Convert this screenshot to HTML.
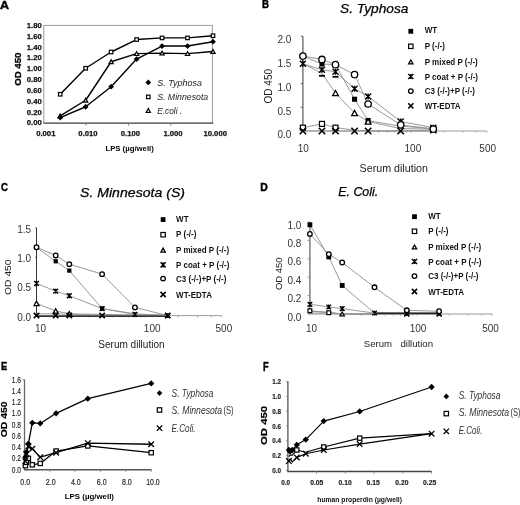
<!DOCTYPE html>
<html><head><meta charset="utf-8"><style>
html,body{margin:0;padding:0;background:#fff;}
svg{display:block;will-change:transform;}
text{font-family:"Liberation Sans", sans-serif;}
</style></head><body>
<svg width="520" height="505" viewBox="0 0 520 505">
<rect width="520" height="505" fill="#fff"/>
<text x="0" y="8.9" font-size="11.5" font-weight="bold" textLength="9" lengthAdjust="spacingAndGlyphs" stroke="#000" stroke-width="0.45">A</text>
<rect x="43.8" y="25.4" width="168.6" height="97.8" fill="none" stroke="#9a9a9a" stroke-width="1"/>
<line x1="43.3" y1="123.2" x2="213.3" y2="123.2" stroke="#555" stroke-width="1.2"/>
<text x="41.8" y="27.8" font-size="7.7" font-weight="bold" text-anchor="end" fill="#111" stroke="#111" stroke-width="0.25">1.80</text>
<text x="41.8" y="38.65" font-size="7.7" font-weight="bold" text-anchor="end" fill="#111" stroke="#111" stroke-width="0.25">1.60</text>
<text x="41.8" y="49.5" font-size="7.7" font-weight="bold" text-anchor="end" fill="#111" stroke="#111" stroke-width="0.25">1.40</text>
<text x="41.8" y="60.35" font-size="7.7" font-weight="bold" text-anchor="end" fill="#111" stroke="#111" stroke-width="0.25">1.20</text>
<text x="41.8" y="71.2" font-size="7.7" font-weight="bold" text-anchor="end" fill="#111" stroke="#111" stroke-width="0.25">1.00</text>
<text x="41.8" y="82.05" font-size="7.7" font-weight="bold" text-anchor="end" fill="#111" stroke="#111" stroke-width="0.25">0.80</text>
<text x="41.8" y="92.9" font-size="7.7" font-weight="bold" text-anchor="end" fill="#111" stroke="#111" stroke-width="0.25">0.60</text>
<text x="41.8" y="103.75" font-size="7.7" font-weight="bold" text-anchor="end" fill="#111" stroke="#111" stroke-width="0.25">0.40</text>
<text x="41.8" y="114.6" font-size="7.7" font-weight="bold" text-anchor="end" fill="#111" stroke="#111" stroke-width="0.25">0.20</text>
<text x="41.8" y="125.45" font-size="7.7" font-weight="bold" text-anchor="end" fill="#111" stroke="#111" stroke-width="0.25">0.00</text>
<line x1="86.1" y1="123.2" x2="86.1" y2="125.5" stroke="#777" stroke-width="1"/>
<line x1="128.4" y1="123.2" x2="128.4" y2="125.5" stroke="#777" stroke-width="1"/>
<line x1="170.7" y1="123.2" x2="170.7" y2="125.5" stroke="#777" stroke-width="1"/>
<text x="20.7" y="69.2" font-size="8.3" font-weight="bold" text-anchor="middle" textLength="33.3" lengthAdjust="spacingAndGlyphs" transform="rotate(-90 20.7 69.2)" stroke="#000" stroke-width="0.3">OD 450</text>
<text x="45.8" y="135.9" font-size="7.7" font-weight="bold" text-anchor="middle" fill="#111" stroke="#111" stroke-width="0.25">0.001</text>
<text x="87.9" y="135.9" font-size="7.7" font-weight="bold" text-anchor="middle" fill="#111" stroke="#111" stroke-width="0.25">0.010</text>
<text x="130.4" y="135.9" font-size="7.7" font-weight="bold" text-anchor="middle" fill="#111" stroke="#111" stroke-width="0.25">0.100</text>
<text x="173" y="135.9" font-size="7.7" font-weight="bold" text-anchor="middle" fill="#111" stroke="#111" stroke-width="0.25">1.000</text>
<text x="215.2" y="135.9" font-size="7.7" font-weight="bold" text-anchor="middle" fill="#111" stroke="#111" stroke-width="0.25">10.000</text>
<text x="105.4" y="150.6" font-size="8" font-weight="bold" textLength="48.4" lengthAdjust="spacingAndGlyphs">LPS (µg/well)</text>
<polyline points="60.2,94.27 85.66,68.26 111.13,52 136.6,39.53 162.07,37.91 187.53,37.91 213,35.74" fill="none" stroke="#000" stroke-width="1.4" stroke-linejoin="round"/>
<polyline points="60.2,115.95 85.66,100.24 111.13,61.75 136.6,53.62 162.07,53.08 187.53,53.62 213,51.46" fill="none" stroke="#000" stroke-width="1.4" stroke-linejoin="round"/>
<polyline points="60.2,117.58 85.66,106.74 111.13,86.69 136.6,59.04 162.07,46.04 187.53,46.04 213,41.7" fill="none" stroke="#000" stroke-width="1.4" stroke-linejoin="round"/>
<rect x="58.45" y="92.52" width="3.5" height="3.5" fill="#fff" stroke="#000" stroke-width="1.2"/>
<rect x="83.91" y="66.51" width="3.5" height="3.5" fill="#fff" stroke="#000" stroke-width="1.2"/>
<rect x="109.38" y="50.25" width="3.5" height="3.5" fill="#fff" stroke="#000" stroke-width="1.2"/>
<rect x="134.85" y="37.78" width="3.5" height="3.5" fill="#fff" stroke="#000" stroke-width="1.2"/>
<rect x="160.32" y="36.16" width="3.5" height="3.5" fill="#fff" stroke="#000" stroke-width="1.2"/>
<rect x="185.78" y="36.16" width="3.5" height="3.5" fill="#fff" stroke="#000" stroke-width="1.2"/>
<rect x="211.25" y="33.99" width="3.5" height="3.5" fill="#fff" stroke="#000" stroke-width="1.2"/>
<polygon points="60.2,114.06 62.3,117.84 58.1,117.84" fill="#fff" stroke="#000" stroke-width="1.2" stroke-linejoin="miter"/>
<polygon points="85.66,98.35 87.76,102.13 83.56,102.13" fill="#fff" stroke="#000" stroke-width="1.2" stroke-linejoin="miter"/>
<polygon points="111.13,59.86 113.23,63.64 109.03,63.64" fill="#fff" stroke="#000" stroke-width="1.2" stroke-linejoin="miter"/>
<polygon points="136.6,51.73 138.7,55.51 134.5,55.51" fill="#fff" stroke="#000" stroke-width="1.2" stroke-linejoin="miter"/>
<polygon points="162.07,51.19 164.17,54.97 159.97,54.97" fill="#fff" stroke="#000" stroke-width="1.2" stroke-linejoin="miter"/>
<polygon points="187.53,51.73 189.63,55.51 185.43,55.51" fill="#fff" stroke="#000" stroke-width="1.2" stroke-linejoin="miter"/>
<polygon points="213,49.57 215.1,53.35 210.9,53.35" fill="#fff" stroke="#000" stroke-width="1.2" stroke-linejoin="miter"/>
<polygon points="60.2,114.68 63.1,117.58 60.2,120.48 57.3,117.58" fill="#000"/>
<polygon points="85.66,103.84 88.56,106.74 85.66,109.64 82.76,106.74" fill="#000"/>
<polygon points="111.13,83.79 114.03,86.69 111.13,89.59 108.23,86.69" fill="#000"/>
<polygon points="136.6,56.14 139.5,59.04 136.6,61.94 133.7,59.04" fill="#000"/>
<polygon points="162.07,43.14 164.97,46.04 162.07,48.94 159.17,46.04" fill="#000"/>
<polygon points="187.53,43.14 190.43,46.04 187.53,48.94 184.63,46.04" fill="#000"/>
<polygon points="213,38.8 215.9,41.7 213,44.6 210.1,41.7" fill="#000"/>
<polygon points="148.3,79.5 151.2,82.4 148.3,85.3 145.4,82.4" fill="#000"/>
<rect x="146.55" y="95.15" width="3.5" height="3.5" fill="#fff" stroke="#000" stroke-width="1.2"/>
<polygon points="148.3,108.51 150.4,112.29 146.2,112.29" fill="#fff" stroke="#000" stroke-width="1.2" stroke-linejoin="miter"/>
<text x="157.2" y="85.6" font-size="8.8" font-style="italic" textLength="44.7" lengthAdjust="spacingAndGlyphs" fill="#222">S. Typhosa</text>
<text x="157.2" y="100.1" font-size="8.8" font-style="italic" textLength="51" lengthAdjust="spacingAndGlyphs" fill="#222">S. Minnesota</text>
<text x="157.2" y="113.6" font-size="8.8" font-style="italic" textLength="25" lengthAdjust="spacingAndGlyphs" fill="#222">E.coli .</text>
<text x="262" y="8.4" font-size="11.5" font-weight="bold" textLength="7" lengthAdjust="spacingAndGlyphs" stroke="#000" stroke-width="0.45">B</text>
<text x="340" y="12.8" font-size="13.4" font-style="italic" textLength="68.5" lengthAdjust="spacingAndGlyphs" stroke="#000" stroke-width="0.25">S. Typhosa</text>
<line x1="302.9" y1="36.2" x2="302.9" y2="131" stroke="#666" stroke-width="1.3"/>
<line x1="300.7" y1="36.2" x2="302.9" y2="36.2" stroke="#666" stroke-width="1"/>
<text x="291.4" y="43.4" font-size="10" text-anchor="end" fill="#333">2.0</text>
<line x1="300.7" y1="59.9" x2="302.9" y2="59.9" stroke="#666" stroke-width="1"/>
<text x="291.4" y="67.1" font-size="10" text-anchor="end" fill="#333">1.5</text>
<line x1="300.7" y1="83.6" x2="302.9" y2="83.6" stroke="#666" stroke-width="1"/>
<text x="291.4" y="90.8" font-size="10" text-anchor="end" fill="#333">1.0</text>
<line x1="300.7" y1="107.3" x2="302.9" y2="107.3" stroke="#666" stroke-width="1"/>
<text x="291.4" y="114.5" font-size="10" text-anchor="end" fill="#333">0.5</text>
<line x1="300.7" y1="131" x2="302.9" y2="131" stroke="#666" stroke-width="1"/>
<text x="291.4" y="138.2" font-size="10" text-anchor="end" fill="#333">0.0</text>
<text x="272.3" y="86.2" font-size="10.5" text-anchor="middle" textLength="34.5" lengthAdjust="spacingAndGlyphs" fill="#222" transform="rotate(-90 272.3 86.2)">OD 450</text>
<line x1="302.9" y1="131" x2="486.9" y2="131" stroke="#9a9a9a" stroke-width="1"/>
<line x1="335.5" y1="131" x2="335.5" y2="133" stroke="#aaa" stroke-width="0.8"/>
<line x1="354.57" y1="131" x2="354.57" y2="133" stroke="#aaa" stroke-width="0.8"/>
<line x1="368.1" y1="131" x2="368.1" y2="133" stroke="#aaa" stroke-width="0.8"/>
<line x1="378.6" y1="131" x2="378.6" y2="133" stroke="#aaa" stroke-width="0.8"/>
<line x1="387.17" y1="131" x2="387.17" y2="133" stroke="#aaa" stroke-width="0.8"/>
<line x1="394.42" y1="131" x2="394.42" y2="133" stroke="#aaa" stroke-width="0.8"/>
<line x1="400.7" y1="131" x2="400.7" y2="133" stroke="#aaa" stroke-width="0.8"/>
<line x1="406.24" y1="131" x2="406.24" y2="133" stroke="#aaa" stroke-width="0.8"/>
<line x1="411.2" y1="131" x2="411.2" y2="133" stroke="#aaa" stroke-width="0.8"/>
<line x1="443.8" y1="131" x2="443.8" y2="133" stroke="#aaa" stroke-width="0.8"/>
<line x1="462.87" y1="131" x2="462.87" y2="133" stroke="#aaa" stroke-width="0.8"/>
<line x1="476.4" y1="131" x2="476.4" y2="133" stroke="#aaa" stroke-width="0.8"/>
<line x1="486.9" y1="131" x2="486.9" y2="133" stroke="#aaa" stroke-width="0.8"/>
<text x="303.2" y="152.4" font-size="10" text-anchor="middle" fill="#333">10</text>
<text x="412.9" y="152.4" font-size="10" text-anchor="middle" fill="#333">100</text>
<text x="487.7" y="152.4" font-size="10" text-anchor="middle" fill="#333">500</text>
<text x="359.6" y="171.9" font-size="10.6" textLength="68.3" lengthAdjust="spacingAndGlyphs" fill="#222">Serum dilution</text>
<polyline points="302.9,56.11 321.97,59.43 335.5,64.64 354.57,74.59 368.1,103.98 400.7,124.84 433.31,129.1" fill="none" stroke="#949494" stroke-width="0.95" stroke-linejoin="round"/>
<polyline points="302.9,63.69 321.97,69.85 335.5,71.75 354.57,88.81 368.1,96.4 400.7,121.52 433.31,127.68" fill="none" stroke="#949494" stroke-width="0.95" stroke-linejoin="round"/>
<polyline points="302.9,56.11 321.97,63.93 335.5,64.64 354.57,99.24 368.1,120.57 400.7,126.26 433.31,128.63" fill="none" stroke="#949494" stroke-width="0.95" stroke-linejoin="round"/>
<polyline points="302.9,63.69 321.97,73.41 335.5,93.08 354.57,112.99 368.1,121.52 400.7,128.63 433.31,129.1" fill="none" stroke="#949494" stroke-width="0.95" stroke-linejoin="round"/>
<polyline points="302.9,127.68 321.97,123.89 335.5,127.68 354.57,130.05 368.1,131 400.7,131 433.31,131" fill="none" stroke="#949494" stroke-width="0.95" stroke-linejoin="round"/>
<polyline points="302.9,131 321.97,131 335.5,131 354.57,131 368.1,131 400.7,131 433.31,130.05" fill="none" stroke="#949494" stroke-width="0.95" stroke-linejoin="round"/>
<rect x="300.4" y="125.18" width="5" height="5" fill="#fff" stroke="#000" stroke-width="1.2"/>
<rect x="319.47" y="121.39" width="5" height="5" fill="#fff" stroke="#000" stroke-width="1.2"/>
<rect x="333" y="125.18" width="5" height="5" fill="#fff" stroke="#000" stroke-width="1.2"/>
<rect x="300.35" y="53.56" width="5.1" height="5.1" fill="#000"/>
<rect x="319.42" y="61.38" width="5.1" height="5.1" fill="#000"/>
<rect x="332.95" y="62.09" width="5.1" height="5.1" fill="#000"/>
<rect x="352.02" y="96.69" width="5.1" height="5.1" fill="#000"/>
<rect x="365.55" y="118.02" width="5.1" height="5.1" fill="#000"/>
<polygon points="335.5,90.47 338.4,95.69 332.6,95.69" fill="#fff" stroke="#000" stroke-width="1.25" stroke-linejoin="miter"/>
<polygon points="354.57,110.38 357.47,115.6 351.67,115.6" fill="#fff" stroke="#000" stroke-width="1.25" stroke-linejoin="miter"/>
<polygon points="368.1,118.91 371,124.13 365.2,124.13" fill="#fff" stroke="#000" stroke-width="1.25" stroke-linejoin="miter"/>
<path d="M299.9,60.69L305.9,66.69M305.9,60.69L299.9,66.69M302.9,60.69L302.9,66.69" stroke="#000" stroke-width="1.4" fill="none"/>
<path d="M318.97,66.85L324.97,72.85M324.97,66.85L318.97,72.85M321.97,66.85L321.97,72.85" stroke="#000" stroke-width="1.4" fill="none"/>
<path d="M332.5,68.75L338.5,74.75M338.5,68.75L332.5,74.75M335.5,68.75L335.5,74.75" stroke="#000" stroke-width="1.4" fill="none"/>
<path d="M351.57,85.81L357.57,91.81M357.57,85.81L351.57,91.81M354.57,85.81L354.57,91.81" stroke="#000" stroke-width="1.4" fill="none"/>
<path d="M365.1,93.4L371.1,99.4M371.1,93.4L365.1,99.4M368.1,93.4L368.1,99.4" stroke="#000" stroke-width="1.4" fill="none"/>
<path d="M397.7,118.52L403.7,124.52M403.7,118.52L397.7,124.52M400.7,118.52L400.7,124.52" stroke="#000" stroke-width="1.4" fill="none"/>
<path d="M430.31,124.68L436.31,130.68M436.31,124.68L430.31,130.68M433.31,124.68L433.31,130.68" stroke="#000" stroke-width="1.4" fill="none"/>
<path d="M299.7,127.8L306.1,134.2M306.1,127.8L299.7,134.2" stroke="#000" stroke-width="1.6" fill="none"/>
<path d="M318.77,127.8L325.17,134.2M325.17,127.8L318.77,134.2" stroke="#000" stroke-width="1.6" fill="none"/>
<path d="M332.3,127.8L338.7,134.2M338.7,127.8L332.3,134.2" stroke="#000" stroke-width="1.6" fill="none"/>
<path d="M351.37,127.8L357.77,134.2M357.77,127.8L351.37,134.2" stroke="#000" stroke-width="1.6" fill="none"/>
<path d="M364.9,127.8L371.3,134.2M371.3,127.8L364.9,134.2" stroke="#000" stroke-width="1.6" fill="none"/>
<path d="M397.5,127.8L403.9,134.2M403.9,127.8L397.5,134.2" stroke="#000" stroke-width="1.6" fill="none"/>
<path d="M430.11,126.85L436.51,133.25M436.51,126.85L430.11,133.25" stroke="#000" stroke-width="1.6" fill="none"/>
<circle cx="302.9" cy="56.11" r="3.2" fill="#fff" stroke="#000" stroke-width="1.3"/>
<circle cx="321.97" cy="59.43" r="3.2" fill="#fff" stroke="#000" stroke-width="1.3"/>
<circle cx="335.5" cy="64.64" r="3.2" fill="#fff" stroke="#000" stroke-width="1.3"/>
<circle cx="354.57" cy="74.59" r="3.2" fill="#fff" stroke="#000" stroke-width="1.3"/>
<circle cx="368.1" cy="103.98" r="3.2" fill="#fff" stroke="#000" stroke-width="1.3"/>
<circle cx="400.7" cy="124.84" r="3.2" fill="#fff" stroke="#000" stroke-width="1.3"/>
<circle cx="433.31" cy="129.1" r="3.2" fill="#fff" stroke="#000" stroke-width="1.3"/>
<rect x="318.97" y="74.9" width="6" height="1.8" fill="#000"/>
<rect x="332.5" y="75.9" width="6" height="1.8" fill="#000"/>
<rect x="408.4" y="28.9" width="4.8" height="4.8" fill="#000"/>
<text x="424.7" y="33.4" font-size="8.5" font-weight="bold" textLength="12.44" lengthAdjust="spacingAndGlyphs" fill="#111">WT</text>
<rect x="408.6" y="44.1" width="4.4" height="4.4" fill="#fff" stroke="#000" stroke-width="1.2"/>
<text x="424.7" y="48.8" font-size="8.5" font-weight="bold" textLength="20.29" lengthAdjust="spacingAndGlyphs" fill="#111">P (-/-)</text>
<polygon points="410.8,60.02 413,63.98 408.6,63.98" fill="#fff" stroke="#000" stroke-width="1.25" stroke-linejoin="miter"/>
<text x="424.7" y="65" font-size="8.5" font-weight="bold" textLength="53.05" lengthAdjust="spacingAndGlyphs" fill="#111">P mixed P (-/-)</text>
<path d="M408.2,73.9L413.4,79.1M413.4,73.9L408.2,79.1M410.8,73.9L410.8,79.1" stroke="#000" stroke-width="1.4" fill="none"/>
<text x="424.7" y="79.5" font-size="8.5" font-weight="bold" textLength="53.27" lengthAdjust="spacingAndGlyphs" fill="#111">P coat + P (-/-)</text>
<circle cx="410.8" cy="91.1" r="2.3" fill="#fff" stroke="#000" stroke-width="1.3"/>
<text x="424.7" y="94.1" font-size="8.5" font-weight="bold" textLength="50.29" lengthAdjust="spacingAndGlyphs" fill="#111">C3 (-/-)+P (-/-)</text>
<path d="M408.2,103.3L413.4,108.5M413.4,103.3L408.2,108.5" stroke="#000" stroke-width="1.6" fill="none"/>
<text x="424.7" y="108.9" font-size="8.5" font-weight="bold" textLength="35.84" lengthAdjust="spacingAndGlyphs" fill="#111">WT-EDTA</text>
<text x="1" y="191.2" font-size="11.6" font-weight="bold" textLength="6.9" lengthAdjust="spacingAndGlyphs" stroke="#000" stroke-width="0.45">C</text>
<text x="80" y="196.9" font-size="13.3" font-style="italic" textLength="105" lengthAdjust="spacingAndGlyphs" stroke="#000" stroke-width="0.25">S. Minnesota (S)</text>
<line x1="36.5" y1="227.8" x2="36.5" y2="315.6" stroke="#333" stroke-width="1"/>
<line x1="35.3" y1="228" x2="36.5" y2="228" stroke="#333" stroke-width="1"/>
<text x="31.2" y="233" font-size="10" text-anchor="end" fill="#333">1.5</text>
<line x1="35.3" y1="257.2" x2="36.5" y2="257.2" stroke="#333" stroke-width="1"/>
<text x="31.2" y="262.2" font-size="10" text-anchor="end" fill="#333">1.0</text>
<line x1="35.3" y1="286.4" x2="36.5" y2="286.4" stroke="#333" stroke-width="1"/>
<text x="31.2" y="291.4" font-size="10" text-anchor="end" fill="#333">0.5</text>
<line x1="35.3" y1="315.6" x2="36.5" y2="315.6" stroke="#333" stroke-width="1"/>
<text x="31.2" y="320.6" font-size="10" text-anchor="end" fill="#333">0.0</text>
<text x="10.8" y="277.2" font-size="9.4" text-anchor="middle" textLength="35.6" lengthAdjust="spacingAndGlyphs" fill="#222" transform="rotate(-90 10.8 277.2)">OD 450</text>
<line x1="36.5" y1="315.6" x2="221.69" y2="315.6" stroke="#9a9a9a" stroke-width="1"/>
<line x1="69.31" y1="315.6" x2="69.31" y2="317.6" stroke="#aaa" stroke-width="0.8"/>
<line x1="88.51" y1="315.6" x2="88.51" y2="317.6" stroke="#aaa" stroke-width="0.8"/>
<line x1="102.12" y1="315.6" x2="102.12" y2="317.6" stroke="#aaa" stroke-width="0.8"/>
<line x1="112.69" y1="315.6" x2="112.69" y2="317.6" stroke="#aaa" stroke-width="0.8"/>
<line x1="121.32" y1="315.6" x2="121.32" y2="317.6" stroke="#aaa" stroke-width="0.8"/>
<line x1="128.62" y1="315.6" x2="128.62" y2="317.6" stroke="#aaa" stroke-width="0.8"/>
<line x1="134.94" y1="315.6" x2="134.94" y2="317.6" stroke="#aaa" stroke-width="0.8"/>
<line x1="140.51" y1="315.6" x2="140.51" y2="317.6" stroke="#aaa" stroke-width="0.8"/>
<line x1="145.5" y1="315.6" x2="145.5" y2="317.6" stroke="#aaa" stroke-width="0.8"/>
<line x1="178.31" y1="315.6" x2="178.31" y2="317.6" stroke="#aaa" stroke-width="0.8"/>
<line x1="197.51" y1="315.6" x2="197.51" y2="317.6" stroke="#aaa" stroke-width="0.8"/>
<line x1="211.12" y1="315.6" x2="211.12" y2="317.6" stroke="#aaa" stroke-width="0.8"/>
<line x1="221.69" y1="315.6" x2="221.69" y2="317.6" stroke="#aaa" stroke-width="0.8"/>
<text x="40.6" y="332" font-size="10" text-anchor="middle" fill="#333">10</text>
<text x="152.2" y="332" font-size="10" text-anchor="middle" fill="#333">100</text>
<text x="223.9" y="332" font-size="10" text-anchor="middle" fill="#333">500</text>
<text x="98.3" y="347.7" font-size="10" textLength="66.3" lengthAdjust="spacingAndGlyphs" fill="#222">Serum dillution</text>
<polyline points="36.5,247.27 55.69,255.45 69.31,264.21 102.12,274.14 134.94,307.42 167.75,315.6" fill="none" stroke="#949494" stroke-width="0.95" stroke-linejoin="round"/>
<polyline points="36.5,247.27 55.69,261.29 69.31,270.63 102.12,308.59 134.94,313.85 167.75,315.6" fill="none" stroke="#949494" stroke-width="0.95" stroke-linejoin="round"/>
<polyline points="36.5,283.48 55.69,291.07 69.31,295.74 102.12,308.59 134.94,314.43 167.75,315.6" fill="none" stroke="#949494" stroke-width="0.95" stroke-linejoin="round"/>
<polyline points="36.5,303.34 55.69,310.93 69.31,313.85 102.12,314.43 134.94,315.02 167.75,315.02" fill="none" stroke="#949494" stroke-width="0.95" stroke-linejoin="round"/>
<polyline points="36.5,313.85 55.69,313.85 69.31,314.43 102.12,315.02 134.94,315.02 167.75,315.02" fill="none" stroke="#949494" stroke-width="0.95" stroke-linejoin="round"/>
<polyline points="36.5,315.6 55.69,315.6 69.31,315.6 102.12,315.6 134.94,315.6 167.75,315.6" fill="none" stroke="#949494" stroke-width="0.95" stroke-linejoin="round"/>
<line x1="36.5" y1="316.2" x2="167.75" y2="316.2" stroke="#333" stroke-width="1.5"/>
<rect x="34.4" y="245.17" width="4.2" height="4.2" fill="#000"/>
<rect x="53.59" y="259.19" width="4.2" height="4.2" fill="#000"/>
<rect x="67.21" y="268.53" width="4.2" height="4.2" fill="#000"/>
<rect x="100.02" y="306.49" width="4.2" height="4.2" fill="#000"/>
<polygon points="36.5,301.09 39,305.59 34,305.59" fill="#fff" stroke="#000" stroke-width="1.25" stroke-linejoin="miter"/>
<polygon points="55.69,308.68 58.19,313.18 53.19,313.18" fill="#fff" stroke="#000" stroke-width="1.25" stroke-linejoin="miter"/>
<polygon points="69.31,311.6 71.81,316.1 66.81,316.1" fill="#fff" stroke="#000" stroke-width="1.25" stroke-linejoin="miter"/>
<path d="M34.1,281.08L38.9,285.88M38.9,281.08L34.1,285.88M36.5,281.08L36.5,285.88" stroke="#000" stroke-width="1.4" fill="none"/>
<path d="M53.29,288.67L58.09,293.47M58.09,288.67L53.29,293.47M55.69,288.67L55.69,293.47" stroke="#000" stroke-width="1.4" fill="none"/>
<path d="M66.91,293.34L71.71,298.14M71.71,293.34L66.91,298.14M69.31,293.34L69.31,298.14" stroke="#000" stroke-width="1.4" fill="none"/>
<path d="M99.72,306.19L104.52,310.99M104.52,306.19L99.72,310.99M102.12,306.19L102.12,310.99" stroke="#000" stroke-width="1.4" fill="none"/>
<path d="M132.54,312.03L137.34,316.83M137.34,312.03L132.54,316.83M134.94,312.03L134.94,316.83" stroke="#000" stroke-width="1.4" fill="none"/>
<path d="M165.35,313.2L170.15,318M170.15,313.2L165.35,318M167.75,313.2L167.75,318" stroke="#000" stroke-width="1.4" fill="none"/>
<path d="M33.8,312.9L39.2,318.3M39.2,312.9L33.8,318.3" stroke="#000" stroke-width="1.6" fill="none"/>
<path d="M52.99,312.9L58.39,318.3M58.39,312.9L52.99,318.3" stroke="#000" stroke-width="1.6" fill="none"/>
<path d="M66.61,312.9L72.01,318.3M72.01,312.9L66.61,318.3" stroke="#000" stroke-width="1.6" fill="none"/>
<path d="M99.42,312.9L104.82,318.3M104.82,312.9L99.42,318.3" stroke="#000" stroke-width="1.6" fill="none"/>
<path d="M165.05,312.9L170.45,318.3M170.45,312.9L165.05,318.3" stroke="#000" stroke-width="1.6" fill="none"/>
<circle cx="36.5" cy="247.27" r="2.3" fill="#fff" stroke="#000" stroke-width="1.3"/>
<circle cx="55.69" cy="255.45" r="2.3" fill="#fff" stroke="#000" stroke-width="1.3"/>
<circle cx="69.31" cy="264.21" r="2.3" fill="#fff" stroke="#000" stroke-width="1.3"/>
<circle cx="102.12" cy="274.14" r="2.3" fill="#fff" stroke="#000" stroke-width="1.3"/>
<circle cx="134.94" cy="307.42" r="2.3" fill="#fff" stroke="#000" stroke-width="1.3"/>
<rect x="160.7" y="217.2" width="4.8" height="4.8" fill="#000"/>
<text x="176.1" y="221.7" font-size="8.5" font-weight="bold" textLength="12.44" lengthAdjust="spacingAndGlyphs" fill="#111">WT</text>
<rect x="160.9" y="232.5" width="4.4" height="4.4" fill="#fff" stroke="#000" stroke-width="1.2"/>
<text x="176.1" y="237.2" font-size="8.5" font-weight="bold" textLength="20.29" lengthAdjust="spacingAndGlyphs" fill="#111">P (-/-)</text>
<polygon points="163.1,248.12 165.3,252.08 160.9,252.08" fill="#fff" stroke="#000" stroke-width="1.25" stroke-linejoin="miter"/>
<text x="176.1" y="253.1" font-size="8.5" font-weight="bold" textLength="53.05" lengthAdjust="spacingAndGlyphs" fill="#111">P mixed P (-/-)</text>
<path d="M160.5,262.2L165.7,267.4M165.7,262.2L160.5,267.4M163.1,262.2L163.1,267.4" stroke="#000" stroke-width="1.4" fill="none"/>
<text x="176.1" y="267.8" font-size="8.5" font-weight="bold" textLength="53.27" lengthAdjust="spacingAndGlyphs" fill="#111">P coat + P (-/-)</text>
<circle cx="163.1" cy="278.6" r="2.3" fill="#fff" stroke="#000" stroke-width="1.3"/>
<text x="176.1" y="281.6" font-size="8.5" font-weight="bold" textLength="50.29" lengthAdjust="spacingAndGlyphs" fill="#111">C3 (-/-)+P (-/-)</text>
<path d="M160.5,291.9L165.7,297.1M165.7,291.9L160.5,297.1" stroke="#000" stroke-width="1.6" fill="none"/>
<text x="176.1" y="297.5" font-size="8.5" font-weight="bold" textLength="35.84" lengthAdjust="spacingAndGlyphs" fill="#111">WT-EDTA</text>
<text x="260.2" y="191" font-size="11.6" font-weight="bold" textLength="7.5" lengthAdjust="spacingAndGlyphs" stroke="#000" stroke-width="0.45">D</text>
<text x="338.3" y="195.9" font-size="12.3" font-style="italic" textLength="39.9" lengthAdjust="spacingAndGlyphs" stroke="#000" stroke-width="0.25">E. Coli.</text>
<line x1="309.9" y1="222" x2="309.9" y2="314" stroke="#888" stroke-width="1.6"/>
<line x1="307.7" y1="222" x2="309.9" y2="222" stroke="#888" stroke-width="1"/>
<text x="301.4" y="228.6" font-size="10" text-anchor="end" fill="#333">1.0</text>
<line x1="307.7" y1="240.4" x2="309.9" y2="240.4" stroke="#888" stroke-width="1"/>
<text x="301.4" y="247" font-size="10" text-anchor="end" fill="#333">0.8</text>
<line x1="307.7" y1="258.8" x2="309.9" y2="258.8" stroke="#888" stroke-width="1"/>
<text x="301.4" y="265.4" font-size="10" text-anchor="end" fill="#333">0.6</text>
<line x1="307.7" y1="277.2" x2="309.9" y2="277.2" stroke="#888" stroke-width="1"/>
<text x="301.4" y="283.8" font-size="10" text-anchor="end" fill="#333">0.4</text>
<line x1="307.7" y1="295.6" x2="309.9" y2="295.6" stroke="#888" stroke-width="1"/>
<text x="301.4" y="302.2" font-size="10" text-anchor="end" fill="#333">0.2</text>
<line x1="307.7" y1="314" x2="309.9" y2="314" stroke="#888" stroke-width="1"/>
<text x="301.4" y="320.6" font-size="10" text-anchor="end" fill="#333">0.0</text>
<text x="282.5" y="273.7" font-size="9.9" text-anchor="middle" textLength="32.7" lengthAdjust="spacingAndGlyphs" fill="#222" transform="rotate(-90 282.5 273.7)">OD 450</text>
<line x1="309.9" y1="314" x2="492.2" y2="314" stroke="#9a9a9a" stroke-width="1"/>
<line x1="342.2" y1="314" x2="342.2" y2="316" stroke="#aaa" stroke-width="0.8"/>
<line x1="361.1" y1="314" x2="361.1" y2="316" stroke="#aaa" stroke-width="0.8"/>
<line x1="374.5" y1="314" x2="374.5" y2="316" stroke="#aaa" stroke-width="0.8"/>
<line x1="384.9" y1="314" x2="384.9" y2="316" stroke="#aaa" stroke-width="0.8"/>
<line x1="393.4" y1="314" x2="393.4" y2="316" stroke="#aaa" stroke-width="0.8"/>
<line x1="400.58" y1="314" x2="400.58" y2="316" stroke="#aaa" stroke-width="0.8"/>
<line x1="406.8" y1="314" x2="406.8" y2="316" stroke="#aaa" stroke-width="0.8"/>
<line x1="412.29" y1="314" x2="412.29" y2="316" stroke="#aaa" stroke-width="0.8"/>
<line x1="417.2" y1="314" x2="417.2" y2="316" stroke="#aaa" stroke-width="0.8"/>
<line x1="449.5" y1="314" x2="449.5" y2="316" stroke="#aaa" stroke-width="0.8"/>
<line x1="468.4" y1="314" x2="468.4" y2="316" stroke="#aaa" stroke-width="0.8"/>
<line x1="481.8" y1="314" x2="481.8" y2="316" stroke="#aaa" stroke-width="0.8"/>
<line x1="492.2" y1="314" x2="492.2" y2="316" stroke="#aaa" stroke-width="0.8"/>
<text x="311.5" y="332" font-size="10" text-anchor="middle" fill="#333">10</text>
<text x="418" y="332" font-size="10" text-anchor="middle" fill="#333">100</text>
<text x="490.5" y="332" font-size="10" text-anchor="middle" fill="#333">500</text>
<text x="363.8" y="347.3" font-size="9.6" textLength="28.1" lengthAdjust="spacingAndGlyphs" fill="#222">Serum</text>
<text x="400.4" y="347.3" font-size="9.6" textLength="32.7" lengthAdjust="spacingAndGlyphs" fill="#222">dillution</text>
<polyline points="309.9,233.96 328.79,254.2 342.2,262.48 374.5,287.32 406.8,310.32 439.1,311.24" fill="none" stroke="#949494" stroke-width="0.95" stroke-linejoin="round"/>
<polyline points="309.9,224.76 328.79,256.96 342.2,285.48 374.5,313.08 406.8,313.08 439.1,313.08" fill="none" stroke="#949494" stroke-width="0.95" stroke-linejoin="round"/>
<polyline points="309.9,304.34 328.79,306.92 342.2,308.66 374.5,313.08 406.8,313.54 439.1,313.54" fill="none" stroke="#949494" stroke-width="0.95" stroke-linejoin="round"/>
<polyline points="309.9,311.24 328.79,312.16 342.2,314 374.5,314 406.8,314 439.1,314" fill="none" stroke="#949494" stroke-width="0.95" stroke-linejoin="round"/>
<polyline points="309.9,310.78 328.79,312.71 342.2,314 374.5,314 406.8,314 439.1,314" fill="none" stroke="#949494" stroke-width="0.95" stroke-linejoin="round"/>
<polyline points="309.9,313.08 328.79,313.08 342.2,314 374.5,314 406.8,314 439.1,314" fill="none" stroke="#949494" stroke-width="0.95" stroke-linejoin="round"/>
<line x1="374.5" y1="313.2" x2="439.1" y2="313.2" stroke="#222" stroke-width="1.6"/>
<rect x="308" y="308.88" width="3.8" height="3.8" fill="#fff" stroke="#000" stroke-width="1.2"/>
<rect x="326.89" y="310.81" width="3.8" height="3.8" fill="#fff" stroke="#000" stroke-width="1.2"/>
<rect x="307.5" y="222.36" width="4.8" height="4.8" fill="#000"/>
<rect x="326.39" y="254.56" width="4.8" height="4.8" fill="#000"/>
<rect x="339.8" y="283.08" width="4.8" height="4.8" fill="#000"/>
<polygon points="342.2,312.02 344.4,315.98 340,315.98" fill="#fff" stroke="#000" stroke-width="1.25" stroke-linejoin="miter"/>
<path d="M307.6,302.04L312.2,306.64M312.2,302.04L307.6,306.64M309.9,302.04L309.9,306.64" stroke="#000" stroke-width="1.4" fill="none"/>
<path d="M326.49,304.62L331.09,309.22M331.09,304.62L326.49,309.22M328.79,304.62L328.79,309.22" stroke="#000" stroke-width="1.4" fill="none"/>
<path d="M339.9,306.36L344.5,310.96M344.5,306.36L339.9,310.96M342.2,306.36L342.2,310.96" stroke="#000" stroke-width="1.4" fill="none"/>
<path d="M372.2,310.78L376.8,315.38M376.8,310.78L372.2,315.38M374.5,310.78L374.5,315.38" stroke="#000" stroke-width="1.4" fill="none"/>
<path d="M404.5,311.24L409.1,315.84M409.1,311.24L404.5,315.84M406.8,311.24L406.8,315.84" stroke="#000" stroke-width="1.4" fill="none"/>
<path d="M436.8,311.24L441.4,315.84M441.4,311.24L436.8,315.84M439.1,311.24L439.1,315.84" stroke="#000" stroke-width="1.4" fill="none"/>
<path d="M404.3,311.5L409.3,316.5M409.3,311.5L404.3,316.5" stroke="#000" stroke-width="1.6" fill="none"/>
<path d="M436.6,311.5L441.6,316.5M441.6,311.5L436.6,316.5" stroke="#000" stroke-width="1.6" fill="none"/>
<circle cx="309.9" cy="233.96" r="2.3" fill="#fff" stroke="#000" stroke-width="1.3"/>
<circle cx="328.79" cy="254.2" r="2.3" fill="#fff" stroke="#000" stroke-width="1.3"/>
<circle cx="342.2" cy="262.48" r="2.3" fill="#fff" stroke="#000" stroke-width="1.3"/>
<circle cx="374.5" cy="287.32" r="2.3" fill="#fff" stroke="#000" stroke-width="1.3"/>
<circle cx="406.8" cy="310.32" r="2.3" fill="#fff" stroke="#000" stroke-width="1.3"/>
<circle cx="439.1" cy="311.24" r="2.3" fill="#fff" stroke="#000" stroke-width="1.3"/>
<rect x="412.1" y="214.3" width="4.8" height="4.8" fill="#000"/>
<text x="428.2" y="218.8" font-size="8.5" font-weight="bold" textLength="12.44" lengthAdjust="spacingAndGlyphs" fill="#111">WT</text>
<rect x="412.3" y="229.1" width="4.4" height="4.4" fill="#fff" stroke="#000" stroke-width="1.2"/>
<text x="428.2" y="233.8" font-size="8.5" font-weight="bold" textLength="20.29" lengthAdjust="spacingAndGlyphs" fill="#111">P (-/-)</text>
<polygon points="414.5,245.02 416.7,248.98 412.3,248.98" fill="#fff" stroke="#000" stroke-width="1.25" stroke-linejoin="miter"/>
<text x="428.2" y="250" font-size="8.5" font-weight="bold" textLength="53.05" lengthAdjust="spacingAndGlyphs" fill="#111">P mixed P (-/-)</text>
<path d="M411.9,258.9L417.1,264.1M417.1,258.9L411.9,264.1M414.5,258.9L414.5,264.1" stroke="#000" stroke-width="1.4" fill="none"/>
<text x="428.2" y="264.5" font-size="8.5" font-weight="bold" textLength="53.27" lengthAdjust="spacingAndGlyphs" fill="#111">P coat + P (-/-)</text>
<circle cx="414.5" cy="276.1" r="2.3" fill="#fff" stroke="#000" stroke-width="1.3"/>
<text x="428.2" y="279.1" font-size="8.5" font-weight="bold" textLength="50.29" lengthAdjust="spacingAndGlyphs" fill="#111">C3 (-/-)+P (-/-)</text>
<path d="M411.9,288.9L417.1,294.1M417.1,288.9L411.9,294.1" stroke="#000" stroke-width="1.6" fill="none"/>
<text x="428.2" y="294.5" font-size="8.5" font-weight="bold" textLength="35.84" lengthAdjust="spacingAndGlyphs" fill="#111">WT-EDTA</text>
<text x="1.1" y="370.3" font-size="11.8" font-weight="bold" textLength="6.2" lengthAdjust="spacingAndGlyphs" stroke="#000" stroke-width="0.45">E</text>
<line x1="24.5" y1="379.6" x2="24.5" y2="470" stroke="#666" stroke-width="1.3"/>
<line x1="22.8" y1="379.9" x2="24.5" y2="379.9" stroke="#666" stroke-width="1"/>
<line x1="24" y1="469.8" x2="151.6" y2="469.8" stroke="#555" stroke-width="1.4"/>
<line x1="49.76" y1="469.8" x2="49.76" y2="472" stroke="#999" stroke-width="1"/>
<line x1="75.12" y1="469.8" x2="75.12" y2="472" stroke="#999" stroke-width="1"/>
<line x1="100.48" y1="469.8" x2="100.48" y2="472" stroke="#999" stroke-width="1"/>
<line x1="125.84" y1="469.8" x2="125.84" y2="472" stroke="#999" stroke-width="1"/>
<line x1="151.2" y1="469.8" x2="151.2" y2="472" stroke="#999" stroke-width="1"/>
<text x="21" y="382.52" font-size="8.3" text-anchor="end" textLength="9.2" lengthAdjust="spacingAndGlyphs" fill="#222" stroke="#222" stroke-width="0.15">1.6</text>
<text x="21" y="393.78" font-size="8.3" text-anchor="end" textLength="9.2" lengthAdjust="spacingAndGlyphs" fill="#222" stroke="#222" stroke-width="0.15">1.4</text>
<text x="21" y="405.04" font-size="8.3" text-anchor="end" textLength="9.2" lengthAdjust="spacingAndGlyphs" fill="#222" stroke="#222" stroke-width="0.15">1.2</text>
<text x="21" y="416.3" font-size="8.3" text-anchor="end" textLength="9.2" lengthAdjust="spacingAndGlyphs" fill="#222" stroke="#222" stroke-width="0.15">1.0</text>
<text x="21" y="427.56" font-size="8.3" text-anchor="end" textLength="9.2" lengthAdjust="spacingAndGlyphs" fill="#222" stroke="#222" stroke-width="0.15">0.8</text>
<text x="21" y="438.82" font-size="8.3" text-anchor="end" textLength="9.2" lengthAdjust="spacingAndGlyphs" fill="#222" stroke="#222" stroke-width="0.15">0.6</text>
<text x="21" y="450.08" font-size="8.3" text-anchor="end" textLength="9.2" lengthAdjust="spacingAndGlyphs" fill="#222" stroke="#222" stroke-width="0.15">0.4</text>
<text x="21" y="461.34" font-size="8.3" text-anchor="end" textLength="9.2" lengthAdjust="spacingAndGlyphs" fill="#222" stroke="#222" stroke-width="0.15">0.2</text>
<text x="21" y="472.6" font-size="8.3" text-anchor="end" textLength="9.2" lengthAdjust="spacingAndGlyphs" fill="#222" stroke="#222" stroke-width="0.15">0.0</text>
<text x="7.2" y="419.4" font-size="9.3" font-weight="bold" text-anchor="middle" textLength="35.8" lengthAdjust="spacingAndGlyphs" transform="rotate(-90 7.2 419.4)" stroke="#000" stroke-width="0.2">OD 450</text>
<text x="25.2" y="484.6" font-size="8.3" text-anchor="middle" textLength="9.8" lengthAdjust="spacingAndGlyphs" fill="#222" stroke="#222" stroke-width="0.15">0.0</text>
<text x="50.7" y="484.6" font-size="8.3" text-anchor="middle" textLength="9.8" lengthAdjust="spacingAndGlyphs" fill="#222" stroke="#222" stroke-width="0.15">2.0</text>
<text x="75.8" y="484.6" font-size="8.3" text-anchor="middle" textLength="9.8" lengthAdjust="spacingAndGlyphs" fill="#222" stroke="#222" stroke-width="0.15">4.0</text>
<text x="101.7" y="484.6" font-size="8.3" text-anchor="middle" textLength="9.8" lengthAdjust="spacingAndGlyphs" fill="#222" stroke="#222" stroke-width="0.15">6.0</text>
<text x="126.9" y="484.6" font-size="8.3" text-anchor="middle" textLength="9.8" lengthAdjust="spacingAndGlyphs" fill="#222" stroke="#222" stroke-width="0.15">8.0</text>
<text x="153" y="484.6" font-size="8.3" text-anchor="middle" textLength="13.4" lengthAdjust="spacingAndGlyphs" fill="#222" stroke="#222" stroke-width="0.15">10.0</text>
<text x="64.8" y="499.4" font-size="8" font-weight="bold" textLength="49.2" lengthAdjust="spacingAndGlyphs">LPS (µg/well)</text>
<polyline points="25.39,457.21 26.38,452.15 28.36,443.7 32.32,422.87 40.25,423.43 56.1,413.3 87.8,398.66 151.2,383.46" fill="none" stroke="#000" stroke-width="1.3" stroke-linejoin="round"/>
<polyline points="25.39,461.16 26.38,453.84 28.36,446.52 32.32,448.77 40.25,457.21 56.1,452.71 87.8,443.14 151.2,444.27" fill="none" stroke="#000" stroke-width="1.3" stroke-linejoin="round"/>
<polyline points="25.39,465.66 26.38,462.28 28.36,458.34 32.32,464.81 40.25,463.41 56.1,451.02 87.8,445.95 151.2,452.71" fill="none" stroke="#000" stroke-width="1.3" stroke-linejoin="round"/>
<rect x="23.24" y="463.51" width="4.3" height="4.3" fill="#fff" stroke="#000" stroke-width="1.2"/>
<rect x="24.23" y="460.13" width="4.3" height="4.3" fill="#fff" stroke="#000" stroke-width="1.2"/>
<rect x="26.21" y="456.19" width="4.3" height="4.3" fill="#fff" stroke="#000" stroke-width="1.2"/>
<rect x="30.17" y="462.66" width="4.3" height="4.3" fill="#fff" stroke="#000" stroke-width="1.2"/>
<rect x="38.1" y="461.26" width="4.3" height="4.3" fill="#fff" stroke="#000" stroke-width="1.2"/>
<rect x="53.95" y="448.87" width="4.3" height="4.3" fill="#fff" stroke="#000" stroke-width="1.2"/>
<rect x="85.65" y="443.8" width="4.3" height="4.3" fill="#fff" stroke="#000" stroke-width="1.2"/>
<rect x="149.05" y="450.56" width="4.3" height="4.3" fill="#fff" stroke="#000" stroke-width="1.2"/>
<path d="M22.59,458.36L28.19,463.96M28.19,458.36L22.59,463.96" stroke="#000" stroke-width="1.3" fill="none"/>
<path d="M23.58,451.04L29.18,456.64M29.18,451.04L23.58,456.64" stroke="#000" stroke-width="1.3" fill="none"/>
<path d="M25.56,443.72L31.16,449.32M31.16,443.72L25.56,449.32" stroke="#000" stroke-width="1.3" fill="none"/>
<path d="M29.52,445.97L35.12,451.57M35.12,445.97L29.52,451.57" stroke="#000" stroke-width="1.3" fill="none"/>
<path d="M37.45,454.41L43.05,460.01M43.05,454.41L37.45,460.01" stroke="#000" stroke-width="1.3" fill="none"/>
<path d="M53.3,449.91L58.9,455.51M58.9,449.91L53.3,455.51" stroke="#000" stroke-width="1.3" fill="none"/>
<path d="M85,440.34L90.6,445.94M90.6,440.34L85,445.94" stroke="#000" stroke-width="1.3" fill="none"/>
<path d="M148.4,441.47L154,447.07M154,441.47L148.4,447.07" stroke="#000" stroke-width="1.3" fill="none"/>
<polygon points="25.39,454.06 28.54,457.21 25.39,460.36 22.24,457.21" fill="#000"/>
<polygon points="26.38,449 29.53,452.15 26.38,455.3 23.23,452.15" fill="#000"/>
<polygon points="28.36,440.55 31.51,443.7 28.36,446.85 25.21,443.7" fill="#000"/>
<polygon points="32.32,419.72 35.47,422.87 32.32,426.02 29.17,422.87" fill="#000"/>
<polygon points="40.25,420.28 43.4,423.43 40.25,426.58 37.1,423.43" fill="#000"/>
<polygon points="56.1,410.15 59.25,413.3 56.1,416.45 52.95,413.3" fill="#000"/>
<polygon points="87.8,395.51 90.95,398.66 87.8,401.81 84.65,398.66" fill="#000"/>
<polygon points="151.2,380.31 154.35,383.46 151.2,386.61 148.05,383.46" fill="#000"/>
<polygon points="159.5,390.3 162.3,393.1 159.5,395.9 156.7,393.1" fill="#000"/>
<rect x="157.3" y="407.8" width="4.4" height="4.4" fill="#fff" stroke="#000" stroke-width="1.2"/>
<path d="M156.8,425.5L162.2,430.9M162.2,425.5L156.8,430.9" stroke="#000" stroke-width="1.3" fill="none"/>
<text x="171.6" y="396.6" font-size="10.2" font-style="italic" textLength="41.9" lengthAdjust="spacingAndGlyphs" fill="#333">S. Typhosa</text>
<text x="171.6" y="413.5" font-size="10.2" font-style="italic" textLength="50.5" lengthAdjust="spacingAndGlyphs" fill="#333">S. Minnesota</text>
<text x="223.5" y="413.5" font-size="10.2" textLength="10.1" lengthAdjust="spacingAndGlyphs" fill="#333">(S)</text>
<text x="171.6" y="431.7" font-size="10.2" font-style="italic" textLength="23.9" lengthAdjust="spacingAndGlyphs" fill="#333">E.Coli.</text>
<text x="263" y="371.4" font-size="12" font-weight="bold" textLength="5.6" lengthAdjust="spacingAndGlyphs" stroke="#000" stroke-width="0.45">F</text>
<line x1="287.9" y1="381.1" x2="287.9" y2="471.5" stroke="#555" stroke-width="1.3"/>
<line x1="287.3" y1="471.4" x2="431.8" y2="471.4" stroke="#444" stroke-width="1.5"/>
<line x1="316.56" y1="471.4" x2="316.56" y2="473.6" stroke="#888" stroke-width="1"/>
<line x1="345.32" y1="471.4" x2="345.32" y2="473.6" stroke="#888" stroke-width="1"/>
<line x1="374.08" y1="471.4" x2="374.08" y2="473.6" stroke="#888" stroke-width="1"/>
<line x1="402.84" y1="471.4" x2="402.84" y2="473.6" stroke="#888" stroke-width="1"/>
<line x1="431.6" y1="471.4" x2="431.6" y2="473.6" stroke="#888" stroke-width="1"/>
<line x1="286.2" y1="381.7" x2="287.9" y2="381.7" stroke="#777" stroke-width="0.9"/>
<text x="281.1" y="384.3" font-size="7.9" font-weight="bold" text-anchor="end" textLength="8.8" lengthAdjust="spacingAndGlyphs" fill="#222" stroke="#222" stroke-width="0.2">1.2</text>
<line x1="286.2" y1="396.48" x2="287.9" y2="396.48" stroke="#777" stroke-width="0.9"/>
<text x="281.1" y="399.08" font-size="7.9" font-weight="bold" text-anchor="end" textLength="8.8" lengthAdjust="spacingAndGlyphs" fill="#222" stroke="#222" stroke-width="0.2">1.0</text>
<line x1="286.2" y1="411.26" x2="287.9" y2="411.26" stroke="#777" stroke-width="0.9"/>
<text x="281.1" y="413.86" font-size="7.9" font-weight="bold" text-anchor="end" textLength="8.8" lengthAdjust="spacingAndGlyphs" fill="#222" stroke="#222" stroke-width="0.2">0.8</text>
<line x1="286.2" y1="426.04" x2="287.9" y2="426.04" stroke="#777" stroke-width="0.9"/>
<text x="281.1" y="428.64" font-size="7.9" font-weight="bold" text-anchor="end" textLength="8.8" lengthAdjust="spacingAndGlyphs" fill="#222" stroke="#222" stroke-width="0.2">0.6</text>
<line x1="286.2" y1="440.82" x2="287.9" y2="440.82" stroke="#777" stroke-width="0.9"/>
<text x="281.1" y="443.42" font-size="7.9" font-weight="bold" text-anchor="end" textLength="8.8" lengthAdjust="spacingAndGlyphs" fill="#222" stroke="#222" stroke-width="0.2">0.4</text>
<line x1="286.2" y1="455.6" x2="287.9" y2="455.6" stroke="#777" stroke-width="0.9"/>
<text x="281.1" y="458.2" font-size="7.9" font-weight="bold" text-anchor="end" textLength="8.8" lengthAdjust="spacingAndGlyphs" fill="#222" stroke="#222" stroke-width="0.2">0.2</text>
<line x1="286.2" y1="470.38" x2="287.9" y2="470.38" stroke="#777" stroke-width="0.9"/>
<text x="281.1" y="472.98" font-size="7.9" font-weight="bold" text-anchor="end" textLength="8.8" lengthAdjust="spacingAndGlyphs" fill="#222" stroke="#222" stroke-width="0.2">0.0</text>
<text x="267.4" y="425.4" font-size="8.8" font-weight="bold" text-anchor="middle" textLength="39.2" lengthAdjust="spacingAndGlyphs" transform="rotate(-90 267.4 425.4)" stroke="#000" stroke-width="0.2">OD 450</text>
<text x="285.7" y="485.4" font-size="7.9" font-weight="bold" text-anchor="middle" textLength="8.8" lengthAdjust="spacingAndGlyphs" fill="#222" stroke="#222" stroke-width="0.2">0.0</text>
<text x="316.8" y="485.4" font-size="7.9" font-weight="bold" text-anchor="middle" textLength="13.1" lengthAdjust="spacingAndGlyphs" fill="#222" stroke="#222" stroke-width="0.2">0.05</text>
<text x="345.1" y="485.4" font-size="7.9" font-weight="bold" text-anchor="middle" textLength="13.1" lengthAdjust="spacingAndGlyphs" fill="#222" stroke="#222" stroke-width="0.2">0.10</text>
<text x="373.1" y="485.4" font-size="7.9" font-weight="bold" text-anchor="middle" textLength="13.1" lengthAdjust="spacingAndGlyphs" fill="#222" stroke="#222" stroke-width="0.2">0.15</text>
<text x="401.9" y="485.4" font-size="7.9" font-weight="bold" text-anchor="middle" textLength="13.1" lengthAdjust="spacingAndGlyphs" fill="#222" stroke="#222" stroke-width="0.2">0.20</text>
<text x="429.6" y="485.4" font-size="7.9" font-weight="bold" text-anchor="middle" textLength="13.1" lengthAdjust="spacingAndGlyphs" fill="#222" stroke="#222" stroke-width="0.2">0.25</text>
<text x="317.3" y="501.7" font-size="7.6" font-weight="bold" textLength="84.6" lengthAdjust="spacingAndGlyphs" fill="#111">human properdin (µg/well)</text>
<polyline points="288.92,449.99 290.05,451.48 292.29,449.99 296.79,444.81 305.78,439.62 323.75,421.09 359.7,411.46 431.6,387.01" fill="none" stroke="#000" stroke-width="1.15" stroke-linejoin="round"/>
<polyline points="288.92,456.66 290.05,455.18 292.29,455.18 296.79,449.99 305.78,452.22 323.75,447.03 359.7,438.14 431.6,433.69" fill="none" stroke="#000" stroke-width="1.15" stroke-linejoin="round"/>
<polyline points="288.92,461.11 290.05,458.88 292.29,461.85 296.79,457.4 305.78,453.7 323.75,449.99 359.7,444.06 431.6,433.69" fill="none" stroke="#000" stroke-width="1.15" stroke-linejoin="round"/>
<rect x="294.64" y="447.84" width="4.3" height="4.3" fill="#fff" stroke="#000" stroke-width="1.2"/>
<rect x="321.6" y="444.88" width="4.3" height="4.3" fill="#fff" stroke="#000" stroke-width="1.2"/>
<rect x="357.55" y="435.99" width="4.3" height="4.3" fill="#fff" stroke="#000" stroke-width="1.2"/>
<path d="M286.12,458.31L291.72,463.91M291.72,458.31L286.12,463.91" stroke="#000" stroke-width="1.3" fill="none"/>
<path d="M293.99,454.6L299.59,460.2M299.59,454.6L293.99,460.2" stroke="#000" stroke-width="1.3" fill="none"/>
<path d="M302.98,450.9L308.58,456.5M308.58,450.9L302.98,456.5" stroke="#000" stroke-width="1.3" fill="none"/>
<path d="M320.95,447.19L326.55,452.79M326.55,447.19L320.95,452.79" stroke="#000" stroke-width="1.3" fill="none"/>
<path d="M356.9,441.26L362.5,446.87M362.5,441.26L356.9,446.87" stroke="#000" stroke-width="1.3" fill="none"/>
<path d="M428.8,430.89L434.4,436.49M434.4,430.89L428.8,436.49" stroke="#000" stroke-width="1.3" fill="none"/>
<polygon points="288.92,446.84 292.07,449.99 288.92,453.14 285.77,449.99" fill="#000"/>
<polygon points="290.05,448.33 293.2,451.48 290.05,454.62 286.9,451.48" fill="#000"/>
<polygon points="292.29,446.84 295.44,449.99 292.29,453.14 289.14,449.99" fill="#000"/>
<polygon points="296.79,441.66 299.94,444.81 296.79,447.96 293.64,444.81" fill="#000"/>
<polygon points="305.78,436.47 308.93,439.62 305.78,442.77 302.63,439.62" fill="#000"/>
<polygon points="323.75,417.94 326.9,421.09 323.75,424.24 320.6,421.09" fill="#000"/>
<polygon points="359.7,408.31 362.85,411.46 359.7,414.61 356.55,411.46" fill="#000"/>
<polygon points="431.6,383.86 434.75,387.01 431.6,390.16 428.45,387.01" fill="#000"/>
<polygon points="446.3,393.6 449.1,396.4 446.3,399.2 443.5,396.4" fill="#000"/>
<rect x="444.1" y="411.4" width="4.4" height="4.4" fill="#fff" stroke="#000" stroke-width="1.2"/>
<path d="M443.6,428.6L449,434M449,428.6L443.6,434" stroke="#000" stroke-width="1.3" fill="none"/>
<text x="458.7" y="399.4" font-size="10" font-style="italic" textLength="41.7" lengthAdjust="spacingAndGlyphs" fill="#333">S. Typhosa</text>
<text x="458.7" y="416.4" font-size="10" font-style="italic" textLength="50.3" lengthAdjust="spacingAndGlyphs" fill="#333">S. Minnesota</text>
<text x="510.5" y="416.4" font-size="10" textLength="10" lengthAdjust="spacingAndGlyphs" fill="#333">(S)</text>
<text x="458.7" y="433.9" font-size="10" font-style="italic" textLength="23.7" lengthAdjust="spacingAndGlyphs" fill="#333">E.Coli.</text>
</svg>
</body></html>
